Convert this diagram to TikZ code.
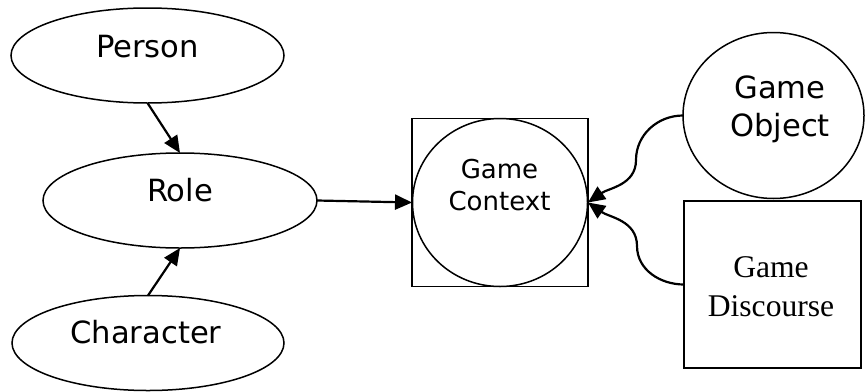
\documentclass[tikz,border=0pt]{standalone}
\usepackage{fontspec}
\setmainfont{DejaVu Sans}
\newfontfamily\serifface{Liberation Serif}
\usetikzlibrary{shapes.geometric,arrows.meta}

\begin{document}
\begin{tikzpicture}[x=0.5pt,y=-0.5pt,
  shapeline/.style={draw,line width=0.75pt,inner sep=0pt,outer sep=0pt},
  oval/.style={shapeline,ellipse},
  boxshape/.style={shapeline,rectangle},
  bigtext/.style={font=\fontsize{15.3pt}{19pt}\selectfont,inner sep=0pt,anchor=base,align=center},
  smalltext/.style={font=\fontsize{13pt}{16pt}\selectfont,inner sep=0pt,anchor=base,align=center},
  seriftext/.style={font=\serifface\fontsize{15.8pt}{19.5pt}\selectfont,inner sep=0pt,anchor=base,align=center},
  link/.style={line width=1.1pt,-{Triangle[length=8.5pt,width=7.5pt]}}
]
\useasboundingbox (0,0) rectangle (865,391);

% left column: people and their role
\node[oval,minimum width=136.5pt,minimum height=47.5pt] (person) at (147.5,55.5) {};
\node[oval,minimum width=137pt,minimum height=47.5pt] (role) at (180,200.5) {};
\node[oval,minimum width=136pt,minimum height=47.5pt] (character) at (148,343) {};
\node[bigtext] (persontxt) at (147.5,57) {Person};
\node[bigtext] (roletxt) at (180,201) {Role};
\node[bigtext] (charactertxt) at (146,343) {Character};

% game context: circle inside a square (base = last line)
\node[boxshape,minimum width=88pt,minimum height=84pt] (gcbox) at (500,202.5) {};
\node[oval,minimum width=87.5pt,minimum height=84pt] (gccirc) at (500,202.5) {};
\node[smalltext] (gctxt) at (499.5,210) {Game\\Context};

% right column
\node[oval,minimum width=90.5pt,minimum height=83pt] (gobj) at (773.5,115.5) {};
\node[bigtext] (gobjtxt) at (780,136) {Game\\Object};
\node[boxshape,minimum width=88.5pt,minimum height=83.5pt] (gdisc) at (772.5,284.5) {};
\node[seriftext] (gdisctxt) at (771,316) {Game\\Discourse};

% bend points of the curved connectors
\coordinate (bendA) at (636,160);
\coordinate (bendB) at (637,246);

% connectors
\draw[link] (person.south) -- (role.north);
\draw[link] (character.north) -- (role.south);
\draw[link] (role.east) -- (gcbox.west);
\draw[link] (gobj.west) to[out=180,in=90] (bendA) to[out=-90,in=35] (gcbox.east);
\draw[link] (gdisc.west) to[out=180,in=-90] (bendB) to[out=90,in=-35] (gcbox.east);
\end{tikzpicture}
\end{document}
